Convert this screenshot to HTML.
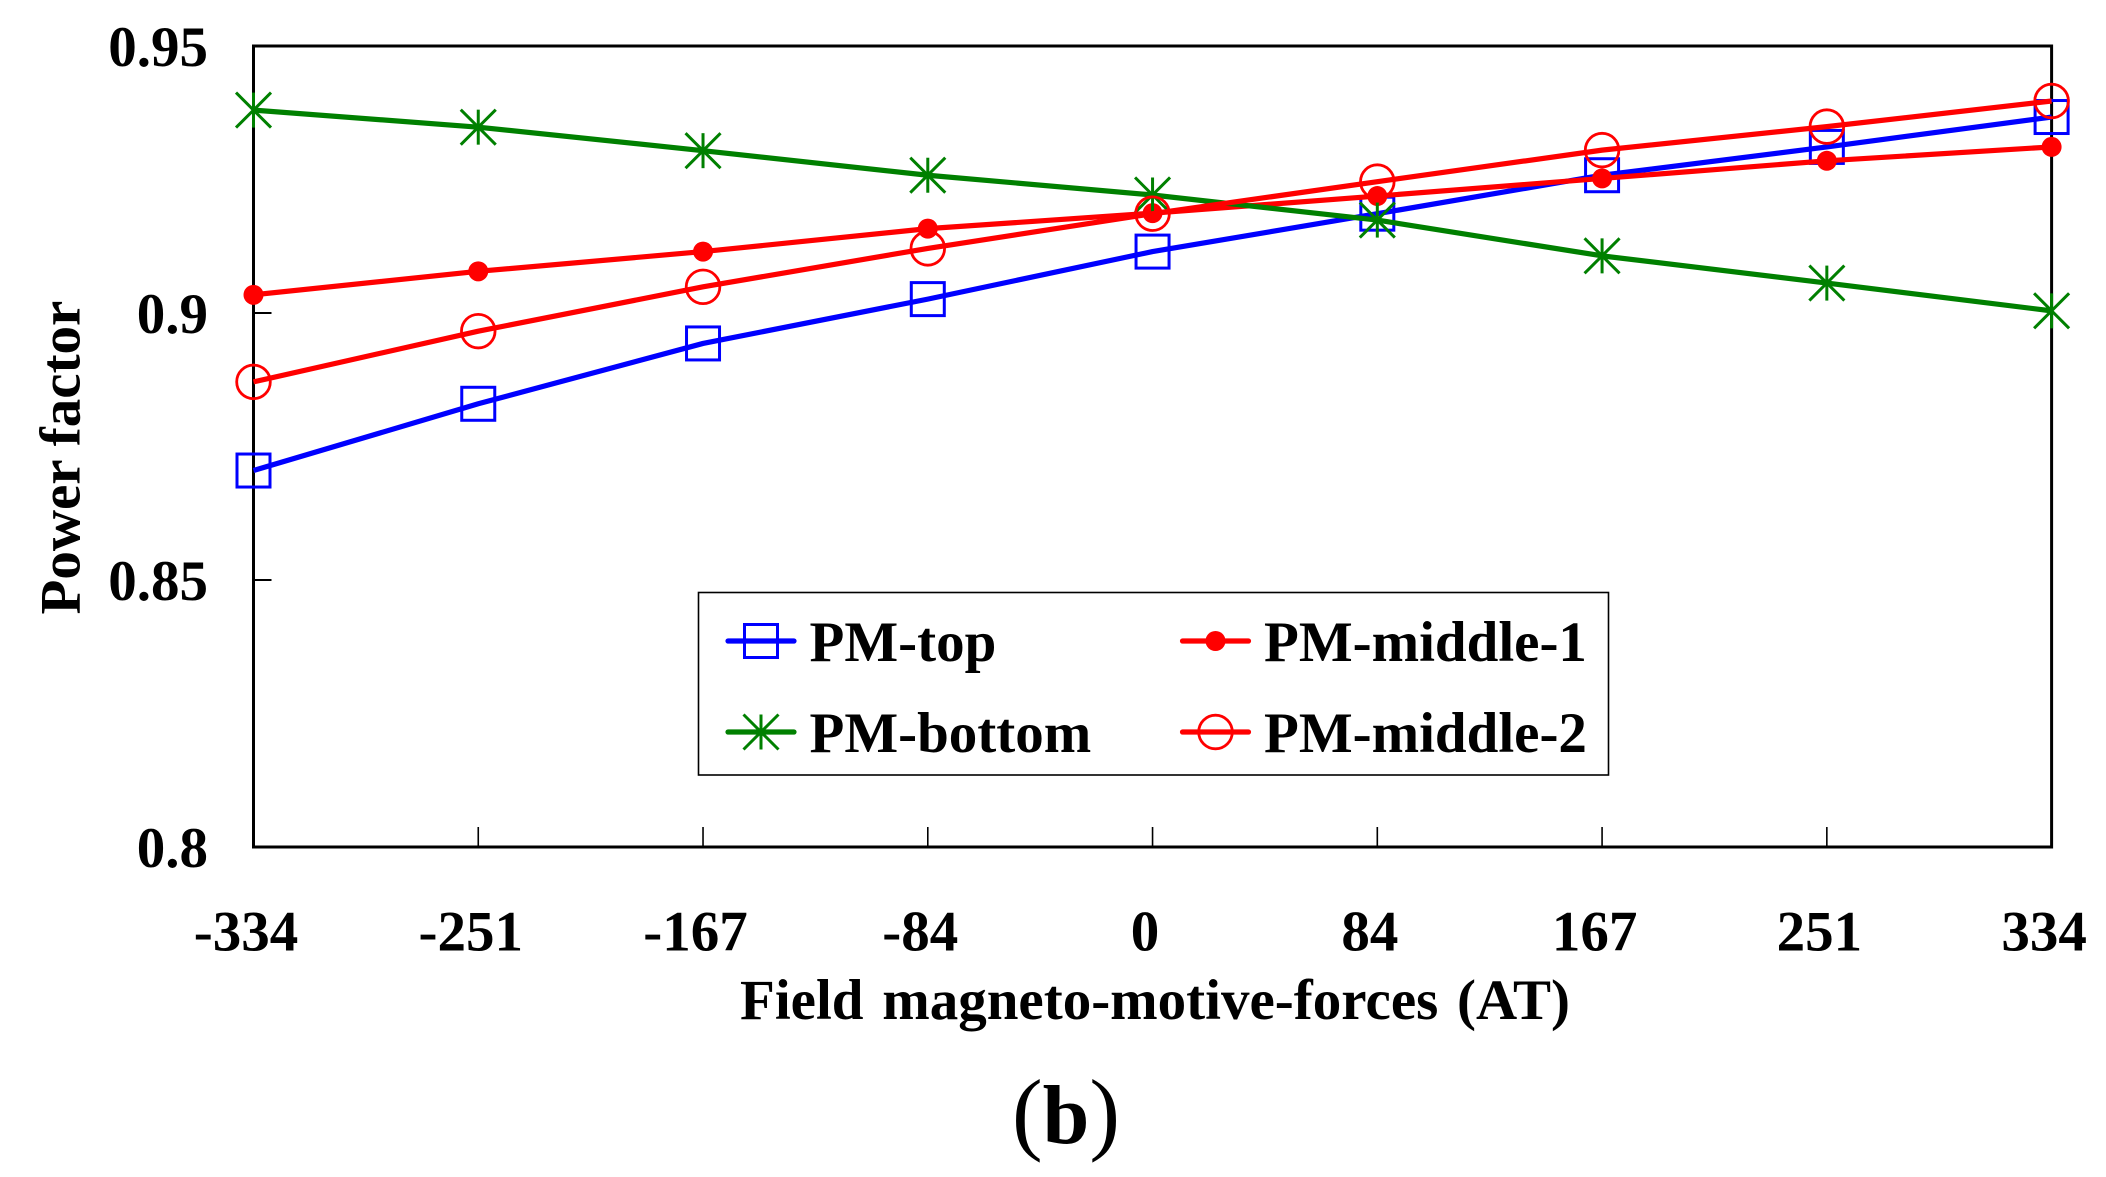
<!DOCTYPE html>
<html lang="en">
<head>
<meta charset="utf-8">
<title>Power factor vs field magneto-motive-forces</title>
<style>
  html, body { margin: 0; padding: 0; background: #ffffff; }
  svg { display: block; }
  text { font-family: "Liberation Serif", serif; font-weight: bold; fill: #000000; }
</style>
</head>
<body>
<svg id="chart" xmlns="http://www.w3.org/2000/svg" width="2106" height="1177" viewBox="0 0 2106 1177">
  <rect x="0" y="0" width="2106" height="1177" fill="#ffffff"/>
  <text transform="translate(79.5 614.5) rotate(-90)" font-size="57">Power factor</text>
  <text x="740" y="1019" font-size="57" word-spacing="4.5">Field magneto-motive-forces (AT)</text>
  <text x="1012" y="1143" font-size="84"><tspan font-weight="normal" font-size="92">(</tspan>b<tspan font-weight="normal" font-size="92">)</tspan></text>
  <g id="axes"></g>
  <g id="series"></g>
  <g id="legend"></g>
</svg>
<script>
const categories = [-334, -251, -167, -84, 0, 84, 167, 251, 334];
const yTickValues = [0.8, 0.85, 0.9, 0.95];
const pmTop = [0.8705, 0.8830, 0.8943, 0.9026, 0.9115, 0.9186, 0.9258, 0.9311, 0.9367];
const pmBottom = [0.9380, 0.9348, 0.9304, 0.9258, 0.9221, 0.9174, 0.9107, 0.9056, 0.9004];
const pmMiddle1 = [0.9034, 0.9078, 0.9115, 0.9158, 0.9187, 0.9219, 0.9252, 0.9285, 0.9311];
const pmMiddle2 = [0.8871, 0.8966, 0.9049, 0.9121, 0.9186, 0.9246, 0.9305, 0.9349, 0.9397];

const NS = 'http://www.w3.org/2000/svg';
const plotLeft = 253.5, plotRight = 2051.6, plotTop = 46, plotBottom = 847;
const yMin = yTickValues[0], yMax = yTickValues[yTickValues.length - 1];

function xAxis(i) {
  return plotLeft + i * (plotRight - plotLeft) / (categories.length - 1);
}
function yAxis(v) {
  return plotBottom - (v - yMin) / (yMax - yMin) * (plotBottom - plotTop);
}
function make(parent, tag, attrs) {
  const el = document.createElementNS(NS, tag);
  for (const k in attrs) el.setAttribute(k, attrs[k]);
  parent.appendChild(el);
  return el;
}

function drawMarker(parent, kind, cx, cy, color) {
  const g = make(parent, 'g', {});
  
  
  const r = 17.5;
  if (kind === 'square') {
    make(g, 'rect', { x: cx - r + 1, y: cy - r + 1, width: 2 * r - 2, height: 2 * r - 2, fill: 'none', stroke: color, 'stroke-width': 3 });
  } else if (kind === 'star') {
    make(g, 'line', { x1: cx, y1: cy - r, x2: cx, y2: cy + r, stroke: color, 'stroke-width': 3 });
    make(g, 'line', { x1: cx - r, y1: cy - r, x2: cx + r, y2: cy + r, stroke: color, 'stroke-width': 3 });
    make(g, 'line', { x1: cx - r, y1: cy + r, x2: cx + r, y2: cy - r, stroke: color, 'stroke-width': 3 });
  } else if (kind === 'dot') {
    make(g, 'circle', { cx: cx, cy: cy, r: 10, fill: color });
  } else {
    make(g, 'circle', { cx: cx, cy: cy, r: r - 0.7, fill: 'none', stroke: color, 'stroke-width': 2.8 });
  }
}

function drawSeries(slug, values, color, kind) {
  const layer = document.getElementById('series');
  const g = make(layer, 'g', {});
  
  
  const pts = values.map(function (v, i) { return xAxis(i).toFixed(2) + ',' + yAxis(v).toFixed(2); }).join(' ');
  const line = make(g, 'polyline', { points: pts, fill: 'none', stroke: color, 'stroke-width': 5.2, 'stroke-linejoin': 'round' });
  
  
  values.forEach(function (v, i) {
    drawMarker(g, kind, xAxis(i), yAxis(v), color);
  });
}

function drawAxes() {
  const axes = document.getElementById('axes');
  const frame = make(axes, 'rect', { x: plotLeft, y: plotTop, width: plotRight - plotLeft, height: plotBottom - plotTop, fill: 'none', stroke: '#000000', 'stroke-width': 3 });
  
  
  yTickValues.forEach(function (v) {
    const y = yAxis(v);
    const tick = make(axes, 'line', { x1: plotLeft, y1: y, x2: plotLeft + 18, y2: y, stroke: '#000000', 'stroke-width': 2 });
    
    
    const label = make(axes, 'text', { x: 208, y: y + 20, 'font-size': 57, 'text-anchor': 'end' });
    
    
    label.textContent = String(v);
  });
  categories.forEach(function (c, i) {
    const x = xAxis(i);
    const tick = make(axes, 'line', { x1: x, y1: plotBottom - 20, x2: x, y2: plotBottom, stroke: '#000000', 'stroke-width': 1.6 });
    
    
    const label = make(axes, 'text', { x: x - 7.5, y: 950.5, 'font-size': 57, 'text-anchor': 'middle' });
    
    
    label.textContent = String(c);
  });
}

function drawLegendEntry(slug, text, lineLeft, cy, color, kind) {
  const legend = document.getElementById('legend');
  const g = make(legend, 'g', {});
  
  
  make(g, 'line', { x1: lineLeft + 2.5, y1: cy, x2: lineLeft + 68.5, y2: cy, stroke: color, 'stroke-width': 5.2, 'stroke-linecap': 'round' });
  drawMarker(g, kind, lineLeft + 35.5, cy, color);
  const t = make(g, 'text', { x: lineLeft + 84, y: cy + 20, 'font-size': 57 });
  
  
  t.textContent = text;
}

function drawLegend() {
  const legend = document.getElementById('legend');
  const box = make(legend, 'rect', { x: 698.5, y: 592.5, width: 910, height: 182.5, fill: '#ffffff', stroke: '#000000', 'stroke-width': 1.6 });
  
  
  drawLegendEntry('pm-top', 'PM-top', 725.5, 641, '#0000ff', 'square');
  drawLegendEntry('pm-bottom', 'PM-bottom', 725.5, 732, '#008000', 'star');
  drawLegendEntry('pm-middle-1', 'PM-middle-1', 1180, 641, '#ff0000', 'dot');
  drawLegendEntry('pm-middle-2', 'PM-middle-2', 1180, 732, '#ff0000', 'ring');
}

drawAxes();
drawSeries('pm-top', pmTop, '#0000ff', 'square');
drawSeries('pm-middle-1', pmMiddle1, '#ff0000', 'dot');
drawSeries('pm-bottom', pmBottom, '#008000', 'star');
drawSeries('pm-middle-2', pmMiddle2, '#ff0000', 'ring');
drawLegend();
</script>
</body>
</html>
